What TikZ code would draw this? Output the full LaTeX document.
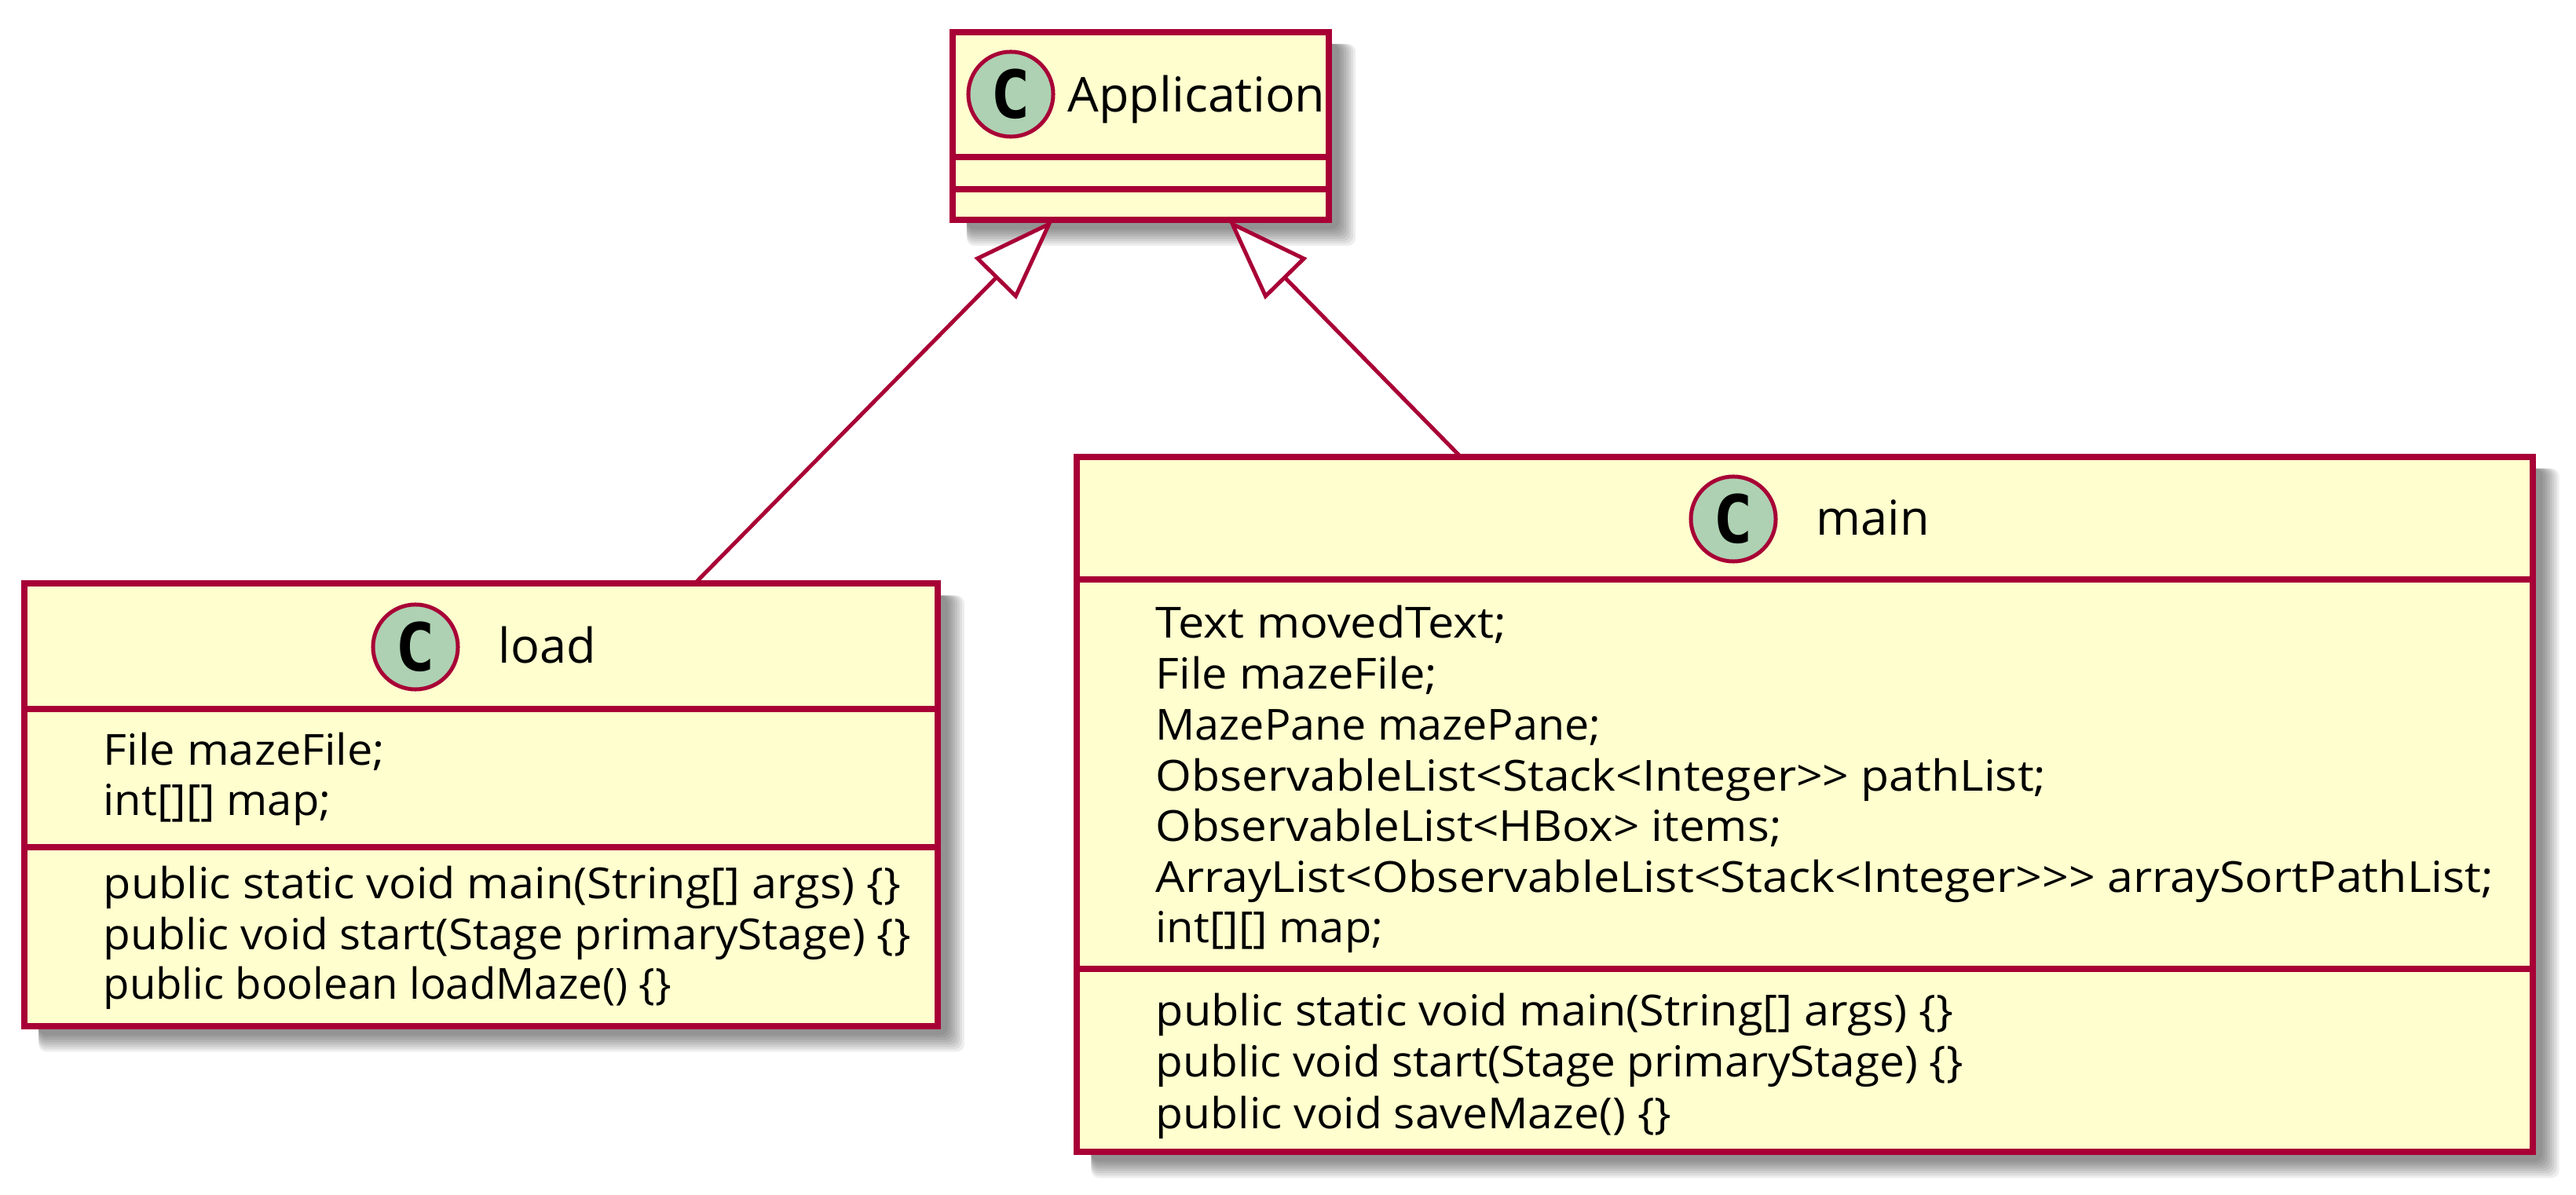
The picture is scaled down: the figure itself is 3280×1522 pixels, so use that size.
\documentclass[tikz,border=0pt]{standalone}
\usepackage{fontspec}
\setmainfont{Open Sans}
\newfontfamily\markfont{DejaVu Sans Mono}[BoldFont={DejaVu Sans Mono Bold}]
\usetikzlibrary{arrows.meta,backgrounds,calc}
\definecolor{umlborder}{HTML}{A80036}
\definecolor{umlfill}{HTML}{FEFECE}
\definecolor{umlmark}{HTML}{ADD1B2}
\tikzset{%
    classbox/.style={draw=umlborder,fill=umlfill,line width=0.08cm,inner sep=0,outer sep=0},
    classmark/.style={circle,draw=umlborder,fill=umlmark,line width=0.05cm,inner sep=0,minimum size=1.08cm,
        font=\markfont\bfseries\fontsize{24}{24}\selectfont},
    classname/.style={anchor=base west,inner sep=0,font=\fontsize{17.4}{20}\selectfont},
    classtext/.style={anchor=base west,inner sep=0,font=\fontsize{15.5}{18}\selectfont},
    sepline/.style={draw=umlborder,line width=0.08cm},
    extends/.style={draw=umlborder,line width=0.05cm,-{Triangle[open,fill=white,length=1.05cm,width=0.74cm]}}
}
\newcommand{\shadowof}[1]{%
    \foreach \d in {0,3,...,21} {
        \fill[black,opacity=0.065,rounded corners=0.1cm] ($(#1.north west)+(18,15)$) rectangle ($(#1.south east)+(34-\d,33-\d)$);
    }
}

\begin{document}
\begin{tikzpicture}[x=0.01cm,y=-0.01cm]
    \useasboundingbox (0,0) rectangle (3280,1522);

    % boxes
    \node[classbox,minimum width=4.79cm,minimum height=2.39cm] (app) at (1452.5,160.5) {};
    \node[classbox,minimum width=11.62cm,minimum height=5.63cm] (load) at (612.5,1025) {};
    \node[classbox,minimum width=18.52cm,minimum height=8.85cm] (main) at (2298,1024.5) {};

    \begin{scope}[on background layer]
        \shadowof{app}
        \shadowof{load}
        \shadowof{main}
    \end{scope}

    % compartments
    \draw[sepline] (1213,200) -- (1692,200);
    \draw[sepline] (1213,241) -- (1692,241);
    \draw[sepline] (32,903) -- (1193,903);
    \draw[sepline] (32,1079) -- (1193,1079);
    \draw[sepline] (1372,738) -- (3224,738);
    \draw[sepline] (1372,1234) -- (3224,1234);

    % headers
    \node[classmark] (appC) at (1287,120) {C};
    \node[classname,xscale=1.026] (appName) at (1359,143) {Application};
    \node[classmark] (loadC) at (529,824) {C};
    \node[classname] (loadName) at (634,844.5) {load};
    \node[classmark] (mainC) at (2207,661) {C};
    \node[classname] (mainName) at (2312,681.5) {main};

    % load
    \node[classtext,xscale=1.06] (loadF1) at (131,975) {File mazeFile;};
    \node[classtext,xscale=1.03] (loadF2) at (131,1039) {int[][] map;};
    \node[classtext,xscale=1.057] (loadM1) at (131,1145) {public static void main(String[] args) \{\}};
    \node[classtext,xscale=1.04] (loadM2) at (131,1209) {public void start(Stage primaryStage) \{\}};
    \node[classtext] (loadM3) at (131,1273) {public boolean loadMaze() \{\}};

    % main
    \node[classtext,xscale=1.09] (mainF1) at (1471,813) {Text movedText;};
    \node[classtext,xscale=1.06] (mainF2) at (1471,878) {File mazeFile;};
    \node[classtext,xscale=1.02] (mainF3) at (1471,943) {MazePane mazePane;};
    \node[classtext,xscale=1.08] (mainF4) at (1471,1008) {ObservableList<Stack<Integer>{}> pathList;};
    \node[classtext,xscale=1.07] (mainF5) at (1471,1072) {ObservableList<HBox> items;};
    \node[classtext,xscale=1.085] (mainF6) at (1471,1137) {ArrayList<ObservableList<Stack<Integer>{}>{}>{} arraySortPathList;};
    \node[classtext,xscale=1.03] (mainF7) at (1471,1201) {int[][] map;};
    \node[classtext,xscale=1.057] (mainM1) at (1471,1307) {public static void main(String[] args) \{\}};
    \node[classtext,xscale=1.04] (mainM2) at (1471,1372) {public void start(Stage primaryStage) \{\}};
    \node[classtext,xscale=1.047] (mainM3) at (1471,1437) {public void saveMaze() \{\}};

    % inheritance
    \draw[extends] (load.46) -- (app.227);
    \draw[extends] ($(main.north west)!0.2635!(main.north east)$) -- (app.313);
\end{tikzpicture}
\end{document}
